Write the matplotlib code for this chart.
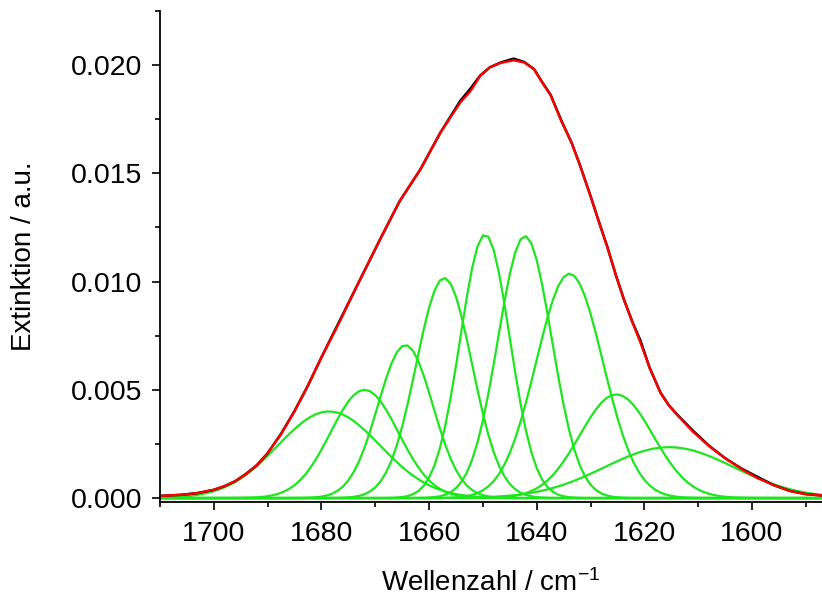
import numpy as np
import matplotlib
matplotlib.use("Agg")
from matplotlib import pyplot as plt
from matplotlib.ticker import MultipleLocator

plt.rcParams['font.family'] = ['Liberation Sans', 'DejaVu Sans']
plt.rcParams['mathtext.fontset'] = 'custom'
plt.rcParams['mathtext.rm'] = 'Liberation Sans'
plt.rcParams['mathtext.it'] = 'Liberation Sans'

# ---------- spectrum ----------
wn_env = [1710, 1706, 1703, 1700, 1698, 1696, 1694, 1692, 1690, 1687.5, 1685,
          1682.5, 1680, 1677, 1673, 1669, 1665.5, 1661.6, 1657.9, 1654.2,
          1652.3, 1650.5, 1648.7, 1646.7, 1644.3, 1642.3, 1640.5, 1639,
          1637.4, 1635.5, 1633.5, 1632, 1630, 1628.5, 1626.9, 1625.3, 1623.8,
          1622.2, 1620.7, 1619, 1617, 1615.5, 1614, 1611, 1608, 1605, 1602,
          1599, 1596, 1593, 1590, 1587]
# measured extinction (black)
ext_meas = [0.00010, 0.00015, 0.00023, 0.00038, 0.00055, 0.00078, 0.00112,
            0.00152, 0.00207, 0.00297, 0.00402, 0.00520, 0.00650, 0.00800,
            0.01000, 0.01200, 0.01370, 0.01519, 0.01688, 0.01835, 0.01892,
            0.01952, 0.01990, 0.02012, 0.02030, 0.02014, 0.01981, 0.01922,
            0.01862, 0.01748, 0.01640, 0.01540, 0.01395, 0.01280, 0.01162,
            0.01030, 0.00917, 0.00812, 0.00726, 0.00600, 0.00487, 0.00430,
            0.00388, 0.00312, 0.00242, 0.00184, 0.00137, 0.00098, 0.00060,
            0.00033, 0.00018, 0.00012]
# cumulative fit (red)
ext_fit = [0.00010, 0.00015, 0.00023, 0.00038, 0.00055, 0.00078, 0.00110,
           0.00152, 0.00207, 0.00295, 0.00400, 0.00520, 0.00650, 0.00795,
           0.01000, 0.01200, 0.01370, 0.01519, 0.01688, 0.01827, 0.01880,
           0.01950, 0.01990, 0.02010, 0.02022, 0.02012, 0.01981, 0.01920,
           0.01860, 0.01745, 0.01640, 0.01540, 0.01395, 0.01280, 0.01160,
           0.01030, 0.00917, 0.00810, 0.00716, 0.00600, 0.00485, 0.00430,
           0.00386, 0.00307, 0.00240, 0.00184, 0.00135, 0.00092, 0.00060,
           0.00033, 0.00018, 0.00012]

# ---------- gaussian components (green) ----------
centers = [1678.6, 1672.0, 1664.4, 1657.2, 1649.6, 1642.2, 1633.9, 1625.2, 1615.4]
heights = [0.0040, 0.0050, 0.00707, 0.01017, 0.01218, 0.01211, 0.01037, 0.00479, 0.00235]
sigmas  = [9.5, 6.3, 5.1, 5.2, 4.6, 5.0, 6.2, 6.8, 12.0]

wn = np.arange(1587, 1711, 1.0)
comps = []
for c, h, s in zip(centers, heights, sigmas):
	comps.append(h * np.exp(-(wn - c) ** 2 / (2 * s ** 2)))

fig = plt.figure(figsize=(8.22, 6.0), dpi=100)
ax = fig.add_axes([0.1946, 0.1638, 0.8054, 0.8179])

for comp in comps:
	ax.plot(wn, comp, color='#1ee61e', lw=1.6)
ax.plot(wn_env, ext_meas, color='black', lw=1.8)
ax.plot(wn_env, ext_fit, color='#ff0000', lw=1.7)

ax.set_xlim(1710, 1587)
ax.set_ylim(-0.00017, 0.0225)

ax.xaxis.set_major_locator(MultipleLocator(20))
ax.xaxis.set_minor_locator(MultipleLocator(10))
ax.yaxis.set_major_locator(MultipleLocator(0.005))
ax.yaxis.set_minor_locator(MultipleLocator(0.0025))
ax.yaxis.set_major_formatter(plt.FormatStrFormatter('%.3f'))

for side in ['top', 'right']:
	ax.spines[side].set_visible(False)
for side in ['left', 'bottom']:
	ax.spines[side].set_linewidth(1.3)

ax.tick_params(which='major', direction='out', length=6, width=1.2, labelsize=20.5)
ax.tick_params(axis='x', which='major', pad=8)
ax.tick_params(axis='y', which='major', pad=7)
ax.tick_params(which='minor', direction='out', length=3.5, width=1.2)

ax.set_xlabel('Wellenzahl / cm$^{-1}$', fontsize=20, labelpad=16)
ax.set_ylabel('Extinktion / a.u.', fontsize=20, labelpad=24)

fig.savefig('out.png', dpi=100)
